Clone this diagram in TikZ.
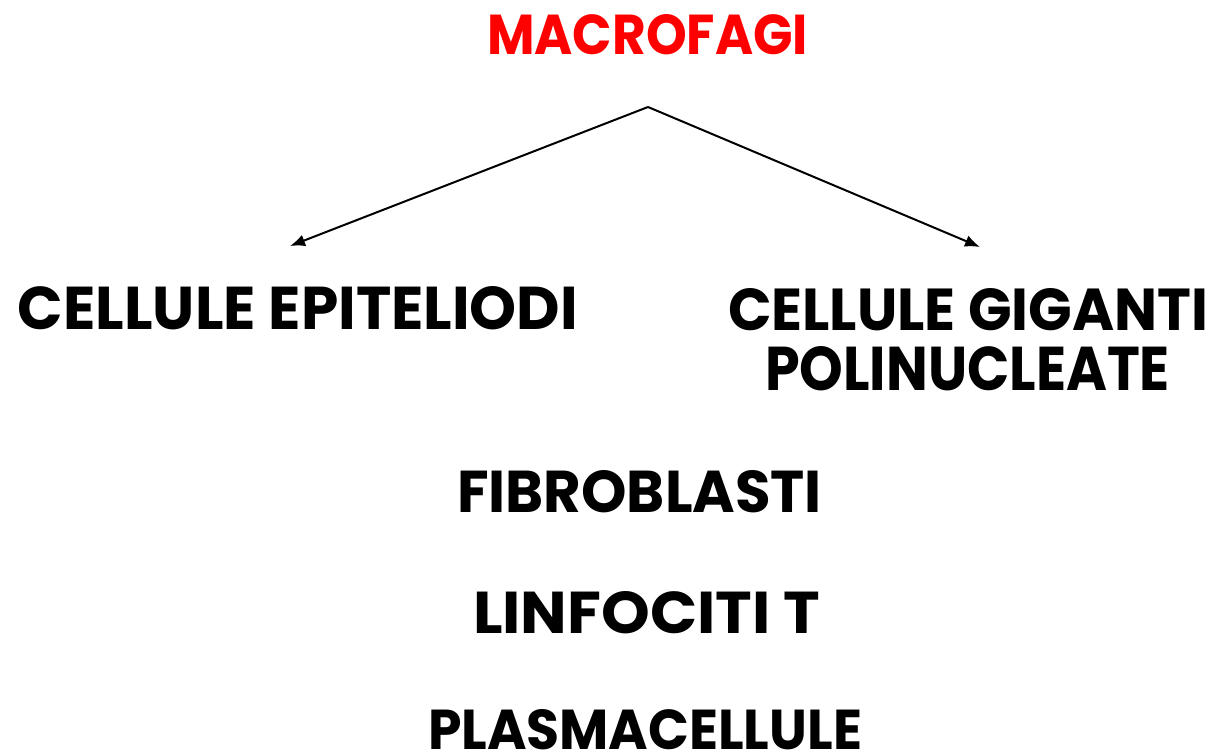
\documentclass[tikz,border=0pt]{standalone}
\usepackage{fontspec}
\setmainfont{Poppins}
\usepackage{graphicx}
\usetikzlibrary{arrows.meta}
\newcommand{\fittext}[3]{\resizebox{#1pt}{#2pt}{\bfseries #3}}
\definecolor{titlered}{HTML}{FF0000}
\tikzset{
  lbl/.style={anchor=north west, inner sep=0pt, outer sep=0pt},
  conn/.style={line width=2pt, -{Latex[length=15pt,width=12pt]}}
}
\begin{document}
\begin{tikzpicture}[x=1pt,y=-1pt]
\useasboundingbox[fill=white] (0,0) rectangle (1214,754);
\node[lbl, text=titlered] (macro) at (487,14) {\fittext{321}{40}{MACROFAGI}};
\node[lbl] (epi) at (18,286) {\fittext{560}{43}{CELLULE EPITELIODI}};
\node[lbl] (gig) at (728,288) {\fittext{480}{42}{CELLULE GIGANTI}};
\node[lbl] (poli) at (765,346) {\fittext{405}{44}{POLINUCLEATE}};
\node[lbl] (fibro) at (457,470) {\fittext{365}{42}{FIBROBLASTI}};
\node[lbl] (linfo) at (473,591) {\fittext{347}{42}{LINFOCITI T}};
\node[lbl] (plasma) at (428,709) {\fittext{434}{40}{PLASMACELLULE}};
\coordinate (apex) at (648,107);
\coordinate (lend) at (290,246);
\coordinate (rend) at (980,247);
\draw[conn] (apex) -- (lend);
\draw[conn] (apex) -- (rend);
\end{tikzpicture}
\end{document}
